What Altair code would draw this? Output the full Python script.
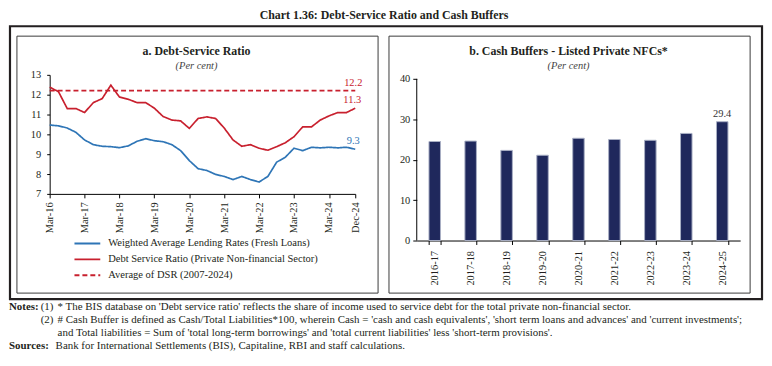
import altair as alt
import pandas as pd

# ---------------- data ----------------
quarters = [
    "2016-03-15", "2016-06-15", "2016-09-15", "2016-12-15",
    "2017-03-15", "2017-06-15", "2017-09-15", "2017-12-15",
    "2018-03-15", "2018-06-15", "2018-09-15", "2018-12-15",
    "2019-03-15", "2019-06-15", "2019-09-15", "2019-12-15",
    "2020-03-15", "2020-06-15", "2020-09-15", "2020-12-15",
    "2021-03-15", "2021-06-15", "2021-09-15", "2021-12-15",
    "2022-03-15", "2022-06-15", "2022-09-15", "2022-12-15",
    "2023-03-15", "2023-06-15", "2023-09-15", "2023-12-15",
    "2024-03-15", "2024-06-15", "2024-09-15", "2024-12-15",
]
walr = [10.47, 10.43, 10.32, 10.1, 9.72, 9.48, 9.4, 9.38, 9.33, 9.42,
        9.65, 9.78, 9.68, 9.63, 9.48, 9.18, 8.68, 8.27, 8.18, 7.98,
        7.88, 7.72, 7.88, 7.72, 7.6, 7.88, 8.6, 8.85, 9.3, 9.18,
        9.35, 9.32, 9.35, 9.32, 9.35, 9.25]
dsr = [12.38, 12.15, 11.3, 11.3, 11.1, 11.6, 11.8, 12.48, 11.88, 11.77,
       11.6, 11.6, 11.32, 10.9, 10.72, 10.68, 10.3, 10.8, 10.88, 10.8,
       10.32, 9.72, 9.4, 9.48, 9.3, 9.2, 9.38, 9.58, 9.88, 10.38,
       10.38, 10.72, 10.93, 11.1, 11.1, 11.32]
dsr_avg = 12.2

series_names = [
    "Weighted Average Lending Rates (Fresh Loans)",
    "Debt Service Ratio (Private Non-financial Sector)",
    "Average of DSR (2007-2024)",
]
end_labels = ["9.3", "11.3", "12.2"]

x_tick_years = [2016, 2017, 2018, 2019, 2020, 2021, 2022, 2023, 2024]
x_tick_last = (2024, 12)
y_ticks_a = [7, 8, 9, 10, 11, 12, 13]

years = ["2016-17", "2017-18", "2018-19", "2019-20", "2020-21",
         "2021-22", "2022-23", "2023-24", "2024-25"]
cash_buffers = [24.5, 24.6, 22.3, 21.1, 25.3, 25.0, 24.8, 26.5, 29.4]
bar_label = ["29.4"]
y_ticks_b = [0, 10, 20, 30, 40]

main_title = "Chart 1.36: Debt-Service Ratio and Cash Buffers"
title_a = "a. Debt-Service Ratio"
title_b = "b. Cash Buffers - Listed Private NFCs*"
unit = "(Per cent)"
notes = [
    ("Notes:", "(1)", "* The BIS database on 'Debt service ratio' reflects the share of income used to service debt for the total private non-financial sector."),
    ("", "(2)", "# Cash Buffer is defined as Cash/Total Liabilities*100, wherein Cash = 'cash and cash equivalents', 'short term loans and advances' and 'current investments';"),
    ("", "", "and Total liabilities = Sum of 'total long-term borrowings' and 'total current liabilities' less 'short-term provisions'."),
]
sources = ("Sources:", "Bank for International Settlements (BIS), Capitaline, RBI and staff calculations.")

# ---------------- styles ----------------
BLUE = "#2e75b6"
RED = "#c8202e"
NAVY = "#1f285c"
FONT = "Liberation Serif"
TXT = "#231f20"
NOTE_SIZE = 11

# left plot origin in page coords: (49, 72)
LX, LY = 49, 72
RX, RY = 419, 72

def lx(px):
    return px - LX

def ly(py):
    return py - LY

one = alt.Data(values=[{"a": 1}])

def text_mark(txt, px, py, size=10, weight="normal", style="normal", color=TXT, align="center", ox=LX):
    return alt.Chart(one).mark_text(
        text=txt, font=FONT, fontSize=size, fontWeight=weight, fontStyle=style,
        color=color, align=align, baseline="middle"
    ).encode(x=alt.value(px - ox), y=alt.value(py - LY))

def box(x1, y1, x2, y2, width=1.0, color="#333333"):
    return alt.Chart(one).mark_rect(fillOpacity=0, stroke=color, strokeWidth=width).encode(
        x=alt.value(lx(x1)), x2=alt.value(lx(x2)), y=alt.value(ly(y1)), y2=alt.value(ly(y2))
    )

# anchor that fixes the top-left of the drawing at page (8, 8)
anchor = alt.Chart(one).mark_rect(fillOpacity=0, strokeOpacity=0).encode(
    x=alt.value(lx(8)), x2=alt.value(lx(9)), y=alt.value(ly(8)), y2=alt.value(ly(9))
)

decor = [
    anchor,
    box(9, 23, 767, 298, width=2.2, color="#231f20"),
    box(16, 33, 380, 292, width=1, color="#3a3a3a"),
    box(391, 33, 755, 292, width=1, color="#3a3a3a"),
    text_mark(main_title, 386, 12, size=12, weight="bold"),
    text_mark(title_a, 197, 48, size=12, weight="bold"),
    text_mark(unit, 197, 63, size=10.5, style="italic", color="#444444"),
    text_mark(title_b, 572, 48, size=12, weight="bold"),
    text_mark(unit, 572, 63, size=10.5, style="italic", color="#444444"),
]
note_y = [306, 319, 332]
for (lead, num, body), yy in zip(notes, note_y):
    if lead:
        decor.append(text_mark(lead, 8, yy, size=NOTE_SIZE, weight="bold", align="left"))
    if num:
        decor.append(text_mark(num, 40, yy, size=NOTE_SIZE, align="left"))
    decor.append(text_mark(body, 57, yy, size=NOTE_SIZE, align="left"))
decor.append(text_mark(sources[0], 8, 345, size=NOTE_SIZE, weight="bold", align="left"))
decor.append(text_mark(sources[1], 55, 345, size=NOTE_SIZE, align="left"))

# ---------------- left panel ----------------
line_df = pd.concat([
    pd.DataFrame({"date": quarters, "value": walr, "series": series_names[0]}),
    pd.DataFrame({"date": quarters, "value": dsr, "series": series_names[1]}),
    pd.DataFrame({"date": [quarters[0], quarters[-1]], "value": [dsr_avg, dsr_avg], "series": series_names[2]}),
], ignore_index=True)

x_values = [alt.DateTime(year=y, month=3, date=15) for y in x_tick_years] + \
           [alt.DateTime(year=x_tick_last[0], month=x_tick_last[1], date=15)]

x_enc = alt.X("date:T", scale=alt.Scale(domain=[quarters[0], quarters[-1]], nice=False),
              axis=alt.Axis(title=None, values=x_values, format="%b-%y", labelAngle=270,
                            grid=False, tickSize=4, labelPadding=4, labelFontSize=10.5,
                            labelOverlap=False, labelFlush=False))
y_enc = alt.Y("value:Q", scale=alt.Scale(domain=[7, 13], nice=False, zero=False),
              axis=alt.Axis(title=None, values=y_ticks_a, grid=False,
                            tickSize=3, labelPadding=6, labelFontSize=10.5,
                            labelOverlap=False, labelFlush=False))

leg = alt.Legend(orient="none", legendX=32, legendY=164, title=None, symbolType="M-2.6,0H2.6",
                 symbolSize=100, symbolStrokeWidth=2, labelFont=FONT, labelFontSize=10.6,
                 labelColor=TXT, labelOffset=15, labelLimit=400, rowPadding=4)

lines = alt.Chart(line_df).mark_line(strokeWidth=1.7).encode(
    x=x_enc, y=y_enc,
    color=alt.Color("series:N", sort=series_names,
                    scale=alt.Scale(domain=series_names, range=[BLUE, RED, RED]), legend=leg),
    strokeDash=alt.StrokeDash("series:N", sort=series_names,
                              scale=alt.Scale(domain=series_names, range=[[1, 0], [1, 0], [5, 3]]),
                              legend=leg),
)

def end_label(val, txt, color, dx=0):
    d = pd.DataFrame({"date": [quarters[-1]], "value": [val], "label": [txt]})
    return alt.Chart(d).mark_text(font=FONT, fontSize=10.5, color=color, dy=-8, dx=dx,
                                  align="center").encode(x=x_enc, y=y_enc, text="label:N")

left = alt.layer(
    *decor, lines,
    end_label(walr[-1], end_labels[0], BLUE, -2),
    end_label(dsr[-1], end_labels[1], RED, -3),
    end_label(dsr_avg, end_labels[2], RED, -2),
).properties(width=308, height=120)

# ---------------- right panel ----------------
bar_df = pd.DataFrame({"year": years, "value": cash_buffers})
b_yscale = alt.Scale(domain=[0, 41], nice=False)
b_yaxis = alt.Axis(title=None, values=y_ticks_b, domain=False, grid=False,
                   tickSize=4, labelPadding=3, labelFontSize=10.5, labelOverlap=False)
bx = alt.X("year:N", sort=years, scale=alt.Scale(paddingInner=0.68, paddingOuter=0.34),
           axis=alt.Axis(title=None, labelAngle=270, tickBand="extent", tickSize=4,
                         labelPadding=6, labelFontSize=10.5, grid=False, labelOverlap=False))
by = alt.Y("value:Q", scale=b_yscale, axis=b_yaxis)

bars = alt.Chart(bar_df).mark_bar(color=NAVY, stroke="#a9afc4", strokeWidth=1).encode(x=bx, y=by)
yline = alt.Chart(pd.DataFrame({"y0": [y_ticks_b[0]], "y1": [y_ticks_b[-1]]})).mark_rule(color="#000000").encode(
    x=alt.value(0), y=alt.Y("y0:Q", scale=b_yscale, axis=b_yaxis), y2="y1:Q")
blabel = alt.Chart(pd.DataFrame({"year": [years[-1]], "value": [cash_buffers[-1]], "label": bar_label})).mark_text(
    font=FONT, fontSize=10.5, color="#333333", dy=-8).encode(x=bx, y=by, text="label:N")

right = alt.layer(bars, yline, blabel).properties(width=326, height=167)

chart = alt.hconcat(left, right, spacing=RX - (LX + 308), bounds="flush").properties(
    padding=0
).configure_view(stroke=None).configure_axis(
    labelFont=FONT, labelColor=TXT, domainColor="#000000", tickColor="#000000"
)

chart.save("out.html", embed_options={"renderer": "svg", "actions": False})
